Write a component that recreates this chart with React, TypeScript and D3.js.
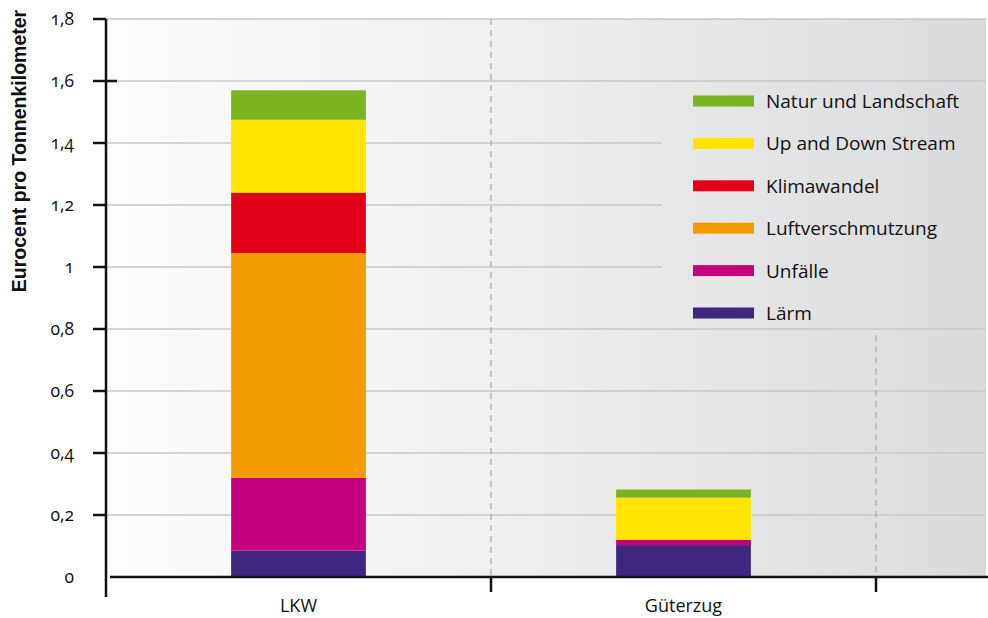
import React from "react";
import * as d3 from "d3";

// Transport modes on the x axis
const categories = ["LKW", "Güterzug"];

// Cost components, bottom to top of each stack
const seriesNames = [
  "Lärm",
  "Unfälle",
  "Luftverschmutzung",
  "Klimawandel",
  "Up and Down Stream",
  "Natur und Landschaft",
];

// Eurocent per tonne-kilometre, one array per mode, in the order of seriesNames
const lkwValues = [0.085, 0.235, 0.725, 0.195, 0.235, 0.095];
const gueterzugValues = [0.103, 0.017, 0, 0, 0.136, 0.026];

const seriesColors = ["#3f2780", "#c5007d", "#f49b00", "#e2001a", "#ffe500", "#7cb420"];

const yTicks = [0, 0.2, 0.4, 0.6, 0.8, 1, 1.2, 1.4, 1.6, 1.8];

const W = 988;
const H = 618;
const left = 106;
const right = 986;
const top = 19;
const bottom = 577;

const fmt = (v: number) => (v === 0 ? "0" : String(v).replace(".", ","));

export default function App() {
  const y = d3.scaleLinear().domain([0, 1.8]).range([bottom, top]);
  const x = d3.scaleBand<string>().domain(categories).range([left, 876]);
  const barW = x.step() * 0.35;

  const rows = categories.map((c, i) => {
    const vals = i === 0 ? lkwValues : gueterzugValues;
    const r: Record<string, number | string> = { cat: c };
    seriesNames.forEach((s, j) => (r[s] = vals[j]));
    return r;
  });
  const stacked = d3.stack<Record<string, number | string>>().keys(seriesNames)(rows as any);

  const font = "'Open Sans', 'Noto Sans', sans-serif";
  const legendRowY = d3.scalePoint<string>().domain([...seriesNames].reverse()).range([101, 313]);

  const divider1 = x("Güterzug")!;
  const divider2 = divider1 + x.step();

  return (
    <svg width={W} height={H} style={{ position: "absolute", left: 0, top: 0 }}>
      <defs>
        <linearGradient id="bg" gradientUnits="userSpaceOnUse" x1={left} x2={right} y1={0} y2={0}>
          <stop offset="0" stopColor="#fcfdfd" />
          <stop offset="0.44" stopColor="#efefef" />
          <stop offset="0.87" stopColor="#dfe0e1" />
          <stop offset="1" stopColor="#d8d9db" />
        </linearGradient>
      </defs>
      <rect x={0} y={0} width={W} height={H} fill="#ffffff" />
      <rect x={left} y={top} width={right - left} height={bottom - top} fill="url(#bg)" />

      {/* horizontal grid */}
      {yTicks.slice(1).map((t) => (
        <line key={t} x1={left} x2={right} y1={y(t)} y2={y(t)} stroke="#c9c9c9" strokeWidth={1.5} />
      ))}

      {/* category dividers */}
      <line x1={divider1} x2={divider1} y1={top} y2={bottom} stroke="#a8a8a8" strokeDasharray="6,5" strokeWidth={1.2} />
      <line x1={divider2} x2={divider2} y1={y(0.78)} y2={bottom} stroke="#a8a8a8" strokeDasharray="6,5" strokeWidth={1.2} />

      {/* legend panel */}
      <rect x={662} y={y(1.6) + 1} width={right - 662} height={y(0.8) - y(1.6) - 2} fill="url(#bg)" />
      {seriesNames.map((s, j) => (
        <g key={s} transform={`translate(693, ${legendRowY(s)})`}>
          <rect x={0} y={-5.5} width={61} height={11} fill={seriesColors[j]} />
          <text x={73} y={7} fontFamily={font} fontSize={19} fill="#111">
            {s}
          </text>
        </g>
      ))}

      {/* stacked bars */}
      {stacked.map((layer, j) => (
        <g key={layer.key} fill={seriesColors[j]}>
          {layer.map((d, i) => {
            const h = y(d[0]) - y(d[1]);
            if (h <= 0) return null;
            return (
              <rect
                key={i}
                x={x(categories[i])! + (x.step() - barW) / 2}
                y={y(d[1])}
                width={barW}
                height={h}
              />
            );
          })}
        </g>
      ))}

      {/* y axis */}
      <line x1={left} x2={left} y1={top} y2={597} stroke="#111" strokeWidth={2.5} />
      {yTicks.map((t) => (
        <g key={t}>
          {t > 0 && (
            <line x1={93} x2={t === 1.6 ? 117 : left} y1={y(t)} y2={y(t)} stroke="#111" strokeWidth={2.5} />
          )}
          <text
            x={74}
            y={y(t)}
            dy="0.35em"
            textAnchor="end"
            fontFamily={font}
            fontSize={17.5}
            fill="#111"
            style={{ fontFeatureSettings: "'onum' 1", fontVariantNumeric: "oldstyle-nums" }}
          >
            {fmt(t)}
          </text>
        </g>
      ))}

      {/* x axis */}
      <line x1={110} x2={W} y1={bottom} y2={bottom} stroke="#111" strokeWidth={2.5} />
      {[divider1, divider2].map((d) => (
        <line key={d} x1={d} x2={d} y1={bottom} y2={592} stroke="#111" strokeWidth={2.5} />
      ))}
      {categories.map((c) => (
        <text
          key={c}
          x={x(c)! + x.step() / 2}
          y={612}
          textAnchor="middle"
          fontFamily={font}
          fontSize={18}
          fill="#111"
        >
          {c}
        </text>
      ))}

      <text
        transform="translate(26, 151) rotate(-90)"
        textAnchor="middle"
        fontFamily="'Liberation Sans', Arial, sans-serif"
        fontWeight="bold"
        fontSize={19.5}
        fill="#111"
      >
        Eurocent pro Tonnenkilometer
      </text>
    </svg>
  );
}
